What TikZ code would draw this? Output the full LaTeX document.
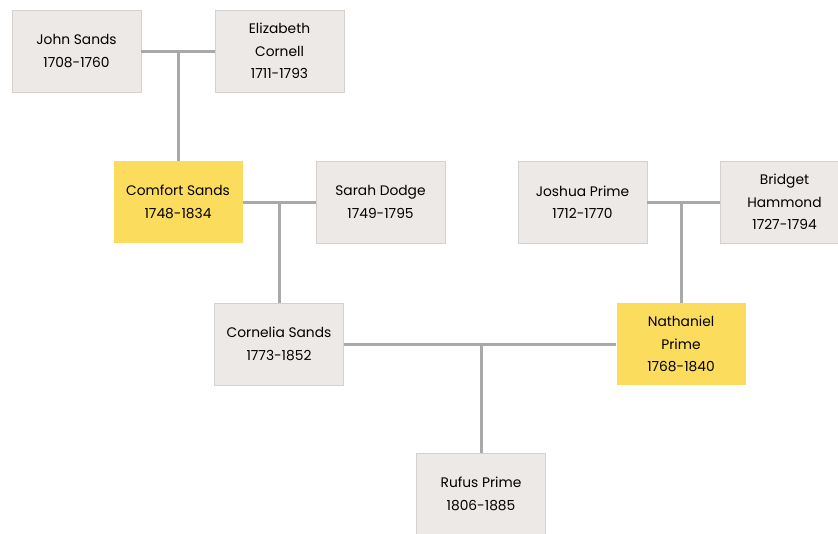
\documentclass[tikz,border=0pt]{standalone}
\usepackage{fontspec}
\setmainfont{Poppins}
\usepackage{xcolor}
\definecolor{boxgray}{HTML}{ECE9E7}
\definecolor{boxedge}{HTML}{D4D1CF}
\definecolor{boxyellow}{HTML}{FCDC5C}
\definecolor{linegray}{HTML}{A9A9A9}
\tikzset{
  person/.style={draw=boxedge,fill=boxgray,line width=0.8pt,minimum width=129pt,
    minimum height=82pt,inner sep=0pt,align=center,text=black,
    font=\fontsize{13.8}{22.5}\selectfont},
  focus/.style={person,draw=none,fill=boxyellow},
  link/.style={linegray,line width=3pt}
}
\begin{document}
\begin{tikzpicture}[x=1pt,y=-1pt]
\useasboundingbox (0,0) rectangle (838,533);
% grandparents
\node[person] (john) at (76.5,51) {John Sands\\1708-1760};
\node[person] (eliz) at (279.5,51) {Elizabeth\\Cornell\\1711-1793};
\node[focus] (comfort) at (178,202) {Comfort Sands\\1748-1834};
\node[person] (sarah) at (380.5,202) {Sarah Dodge\\1749-1795};
\node[person] (joshua) at (582.5,202) {Joshua Prime\\1712-1770};
\node[person] (bridget) at (784.5,202) {Bridget\\Hammond\\1727-1794};
% parents
\node[person] (cornelia) at (279,344) {Cornelia Sands\\1773-1852};
\node[focus] (nathaniel) at (681,344) {Nathaniel\\Prime\\1768-1840};
\node[person] (rufus) at (481,494) {Rufus Prime\\1806-1885};
% couples and children
\coordinate (m1) at (comfort.north |- john.east);
\coordinate (m2) at (cornelia.north |- comfort.east);
\coordinate (m3) at (nathaniel.north |- joshua.east);
\coordinate (m4) at (rufus.north |- cornelia.east);
\draw[link] (john.east) -- (eliz.west);
\draw[link] (m1) -- (comfort.north);
\draw[link] (comfort.east) -- (sarah.west);
\draw[link] (m2) -- (cornelia.north);
\draw[link] (joshua.east) -- (bridget.west);
\draw[link] (m3) -- (nathaniel.north);
\draw[link] (cornelia.east) -- (nathaniel.west);
\draw[link] (m4) -- (rufus.north);
\end{tikzpicture}
\end{document}
